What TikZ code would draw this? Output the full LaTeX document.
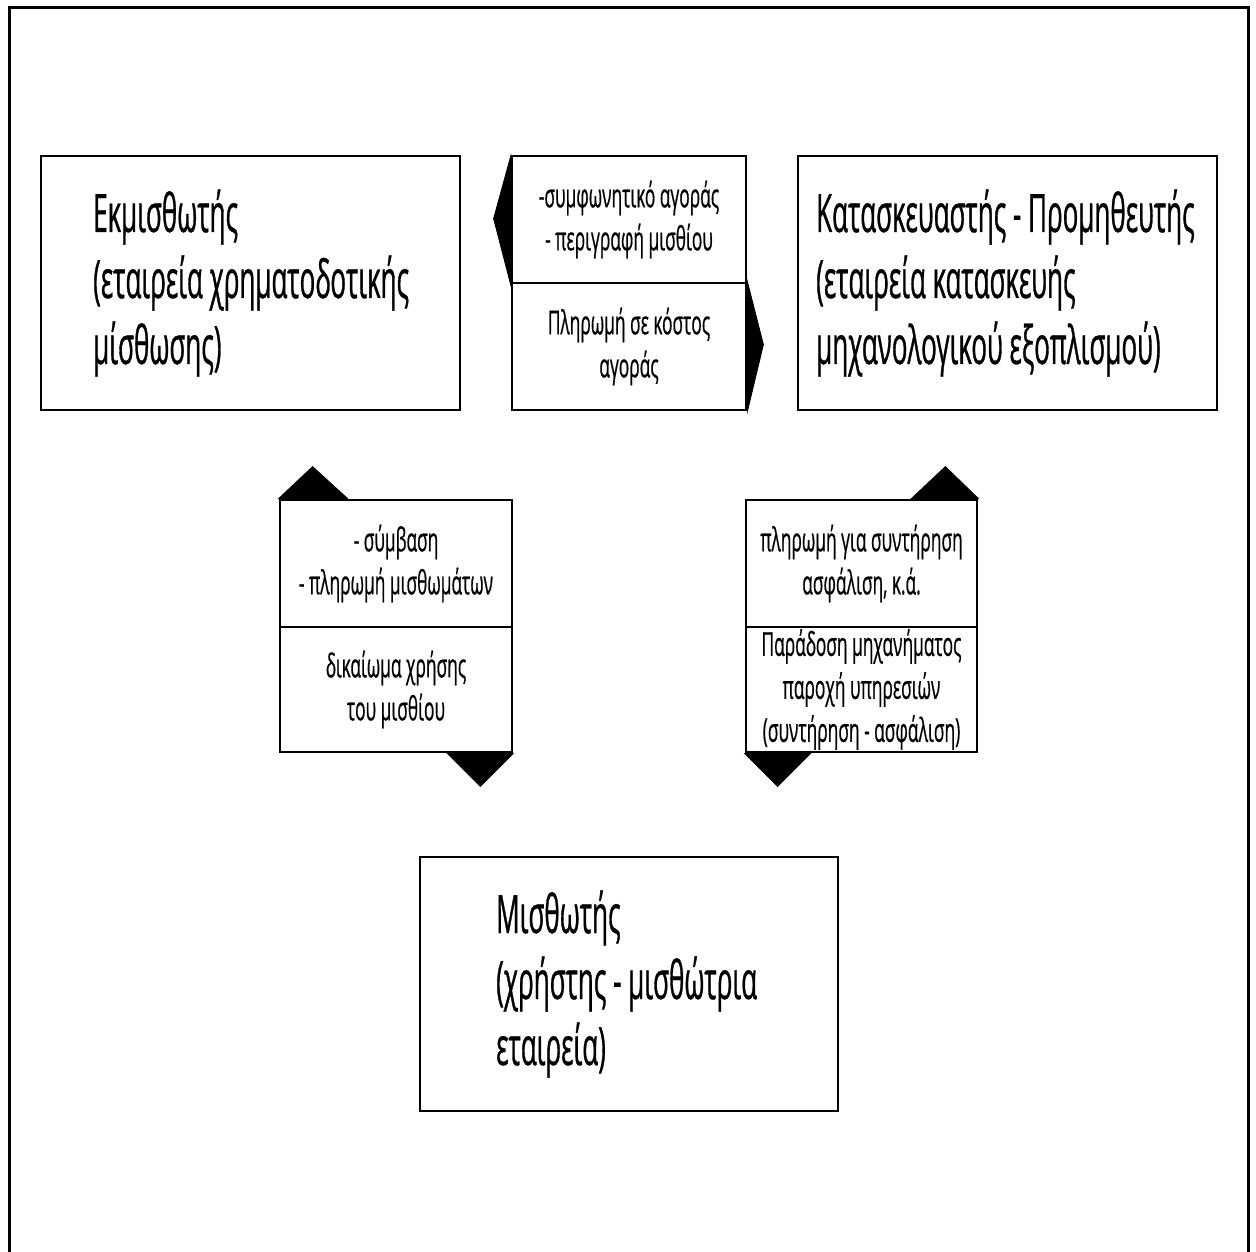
\documentclass[tikz,border=0pt]{standalone}
\usepackage{fontspec}
\setmainfont{Open Sans}[FakeStretch=0.49, FakeBold=0.6]
\newfontfamily\smallfam{Open Sans}[FakeStretch=0.525, FakeBold=0.5]
\tikzset{
  frame/.style={line width=3pt, draw=black},
  bigbox/.style={draw=black, line width=2.8pt, rectangle, inner sep=0pt, fill=white},
  cell/.style={draw=black, line width=2.8pt, rectangle, inner sep=0pt, align=center,
    font=\smallfam\fontsize{33}{43}\selectfont},
  bigtext/.style={anchor=west, inner sep=0pt, align=left,
    font=\fontsize{53}{66}\selectfont},
  head/.style={fill=black, draw=black, line width=0.8pt, line join=miter}
}
\begin{document}
\begin{tikzpicture}[x=1pt,y=-1pt]
\useasboundingbox (0,0) rectangle (1256,1252);
% outer frame (open at the bottom)
\draw[frame] (9,1252) -- (9,8) -- (1248,8) -- (1248,1252);

% main boxes
\node[bigbox, minimum width=419pt, minimum height=254pt] (lessor) at (250.5,283) {};
\node[bigtext] (lessorT) at (93,283) {Εκμισθωτής\\(εταιρεία χρηματοδοτικής\\μίσθωσης)};

\node[bigbox, minimum width=419pt, minimum height=254pt] (maker) at (1007.5,283) {};
\node[bigtext] (makerT) at (816,283) {Κατασκευαστής - Προμηθευτής\\(εταιρεία κατασκευής\\μηχανολογικού εξοπλισμού)};

\node[bigbox, minimum width=418pt, minimum height=254pt] (lessee) at (629,984) {};
\node[bigtext] (lesseeT) at (496,984) {Μισθωτής\\(χρήστης - μισθώτρια\\εταιρεία)};

% top centre exchange box
\node[cell, minimum width=234pt, minimum height=127pt] (tu) at (629,219.5) {-συμφωνητικό αγοράς\\- περιγραφή μισθίου};
\node[cell, minimum width=234pt, minimum height=127pt] (tl) at (629,346.5) {Πληρωμή σε κόστος\\αγοράς};

% left middle exchange box
\node[cell, minimum width=232pt, minimum height=127pt] (lu) at (396,563.5) {- σύμβαση\\- πληρωμή μισθωμάτων};
\node[cell, minimum width=232pt, minimum height=125pt] (ll) at (396,689.5) {δικαίωμα χρήσης\\του μισθίου};

% right middle exchange box
\node[cell, minimum width=231pt, minimum height=127pt] (ru) at (861.5,563.5) {πληρωμή για συντήρηση\\ασφάλιση, κ.ά.};
\node[cell, minimum width=231pt, minimum height=125pt] (rl) at (861.5,689.5) {Παράδοση μηχανήματος\\παροχή υπηρεσιών\\(συντήρηση - ασφάλιση)};

% arrowheads
\fill[head] (tu.north west) ++(0,2) -- ++(-17,62) -- (tu.south west) -- cycle;
\fill[head] (tl.north east) -- ++(16,63) -- (tl.south east) -- cycle;

\fill[head] (lu.north west) -- ++(34,-32) -- ++(35,32) -- cycle;
\fill[head] (ll.south east) -- ++(-33,33) -- ++(-33,-33) -- cycle;

\fill[head] (ru.north east) -- ++(-33,-32) -- ++(-34,32) -- cycle;
\fill[head] (rl.south west) -- ++(33,33) -- ++(33,-33) -- cycle;
\end{tikzpicture}
\end{document}
